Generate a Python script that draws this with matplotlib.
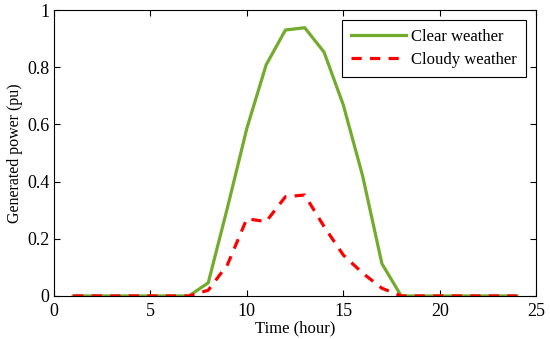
import matplotlib.pyplot as plt

# hourly PV output (pu)
hours = list(range(1, 25))
clear = [0, 0, 0, 0, 0, 0, 0, 0.046, 0.31, 0.586, 0.808, 0.93, 0.938, 0.853,
         0.668, 0.42, 0.113, 0, 0, 0, 0, 0, 0, 0]
cloudy = [0, 0, 0, 0, 0, 0, 0, 0.02, 0.11, 0.27, 0.26, 0.347, 0.353, 0.243,
          0.143, 0.08, 0.027, 0, 0, 0, 0, 0, 0, 0]

plt.rcParams['font.family'] = ['Liberation Serif', 'DejaVu Serif']

fig = plt.figure(figsize=(5.5, 3.39), dpi=100)
ax = fig.add_axes([0.098, 0.127, 0.877, 0.8435])

ax.plot(hours, clear, '-', color='#73AB2C', lw=2.3, label='Clear weather')
ax.plot(hours, cloudy, color='#FF0000', lw=2.3, linestyle=(0, (3.2, 2.6)),
        label='Cloudy weather')

ax.set_xlim(0, 25)
ax.set_ylim(0, 1)
ax.set_xticks([0, 5, 10, 15, 20, 25])
ax.set_yticks([0, 0.2, 0.4, 0.6, 0.8, 1])
ax.set_yticklabels(['0', '0.2', '0.4', '0.6', '0.8', '1'])
ax.tick_params(direction='in', top=True, right=True, labelsize=13, length=4,
               width=0.8)
ax.tick_params(axis='x', pad=5)
ax.tick_params(axis='y', pad=3)
for s in ax.spines.values():
    s.set_linewidth(0.8)

ax.set_xlabel('Time (hour)', fontsize=12, labelpad=0)
ax.set_ylabel('Generated power (pu)', fontsize=11.5, labelpad=3)

leg = ax.legend(loc='upper right', fontsize=12, fancybox=False, framealpha=1,
                edgecolor='black', handlelength=3.3, handletextpad=0.3,
                borderpad=0.55, labelspacing=0.4, borderaxespad=0.6)
leg.get_frame().set_linewidth(0.8)

fig.savefig('out.png', dpi=100)
